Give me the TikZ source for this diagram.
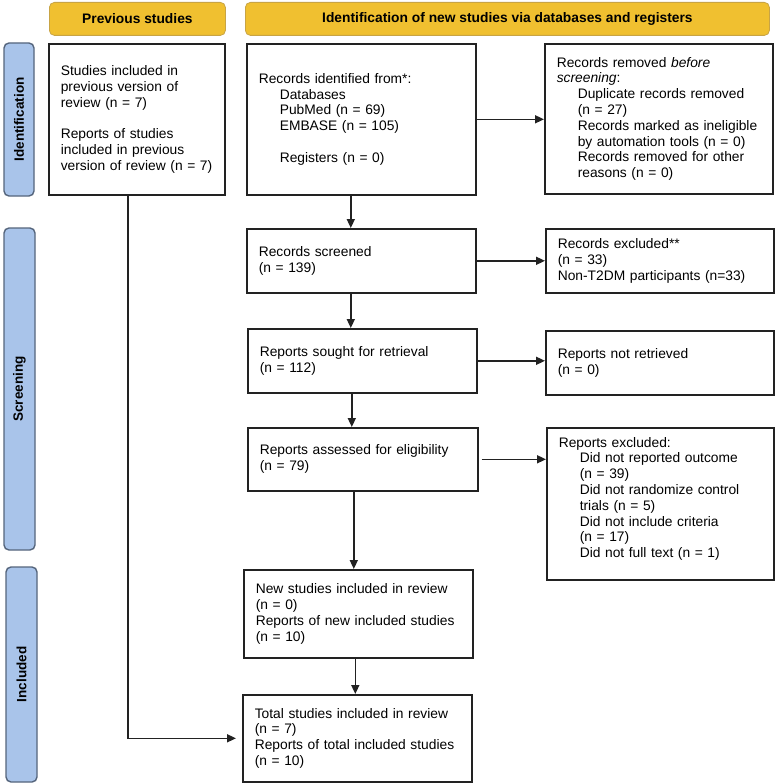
\documentclass[tikz,border=0pt]{standalone}
\usepackage{fontspec}
\setmainfont{Liberation Sans}
\usetikzlibrary{arrows.meta}
\definecolor{hdrfill}{HTML}{F0C030}
\definecolor{hdrdraw}{HTML}{C8A445}
\definecolor{sidefill}{HTML}{A9C4EA}
\definecolor{sidedraw}{HTML}{55657C}
\definecolor{boxdraw}{HTML}{222222}
\newcommand\ind{\hspace*{21pt}}
\begin{document}
\begin{tikzpicture}[x=1pt,y=-1pt,
  txt/.style={font=\fontsize{13.8}{15.8}\selectfont},
  pbox/.style={draw=boxdraw, line width=1.6pt, fill=white, anchor=north west, align=left,
    inner xsep=12pt, inner ysep=2pt, txt},
  hdr/.style={draw=hdrdraw, line width=0.8pt, fill=hdrfill, rounded corners=5pt, anchor=north west,
    minimum height=33pt, inner sep=0pt, font=\fontsize{13.8}{15.8}\selectfont\bfseries},
  side/.style={draw=sidedraw, line width=1.4pt, fill=sidefill, rounded corners=5pt, rotate=90,
    inner sep=0pt, font=\fontsize{13.5}{15.5}\selectfont\bfseries},
  arr/.style={draw=boxdraw, line width=1.6pt, -{Triangle[length=9pt,width=8pt]}}]
\useasboundingbox (0,0) rectangle (777,784);
\fill[white] (0,0) rectangle (777,784);

% headers
\node[hdr, minimum width=176pt] (prevh) at (49,2) {Previous studies};
\node[hdr, minimum width=524pt] (idh) at (245,2) {Identification of new studies via databases and registers};

% side labels
\node[side, minimum width=153pt, minimum height=30pt] (sid) at (19,119.5) {Identification};
\node[side, minimum width=322pt, minimum height=31pt] (ssc) at (19.5,389) {Screening};
\node[side, minimum width=215pt, minimum height=31pt] (sinc) at (21.5,674.5) {Included};

% boxes
\node[pbox, minimum width=176pt, minimum height=151pt, text width=152pt] (prev) at (48,43)
  {Studies included in\\previous version of\\review (n = 7)\\[15.8pt]Reports of studies\\included in previous\\version of review (n = 7)};
\node[pbox, minimum width=229pt, minimum height=151pt, text width=205pt] (ident) at (246,43)
  {Records identified from*:\\\ind Databases\\\ind PubMed (n = 69)\\\ind EMBASE (n = 105)\\[15.8pt]\ind Registers (n = 0)};
\node[pbox, minimum width=228pt, minimum height=150pt, text width=204pt] (removed) at (544,43)
  {Records removed \emph{before}\\\emph{screening}:\\\ind Duplicate records removed\\\ind (n = 27)\\\ind Records marked as ineligible\\\ind by automation tools (n = 0)\\\ind Records removed for other\\\ind reasons (n = 0)};
\node[pbox, minimum width=229pt, minimum height=64pt, text width=205pt] (screened) at (246,228)
  {Records screened\\(n = 139)};
\node[pbox, minimum width=228pt, minimum height=64pt, text width=204pt] (excl) at (545,228)
  {Records excluded**\\(n = 33)\\Non-T2DM participants (n=33)};
\node[pbox, minimum width=229pt, minimum height=64pt, text width=205pt] (sought) at (247,328)
  {Reports sought for retrieval\\(n = 112)};
\node[pbox, minimum width=228pt, minimum height=64pt, text width=204pt] (notret) at (545,330)
  {Reports not retrieved\\(n = 0)};
\node[pbox, minimum width=230pt, minimum height=63pt, text width=206pt] (assessed) at (247,427)
  {Reports assessed for eligibility\\(n = 79)};
\node[pbox, minimum width=227pt, minimum height=152pt, text width=203pt] (repexcl) at (546,427)
  {Reports excluded:\\\ind Did not reported outcome\\\ind (n = 39)\\\ind Did not randomize control\\\ind trials (n = 5)\\\ind Did not include criteria\\\ind (n = 17)\\\ind Did not full text (n = 1)\\[-3pt]\mbox{}};
\node[pbox, minimum width=229pt, minimum height=88pt, text width=205pt] (newst) at (243,569)
  {New studies included in review\\(n = 0)\\Reports of new included studies\\(n = 10)};
\node[pbox, minimum width=229pt, minimum height=87pt, text width=205pt] (total) at (242,694)
  {Total studies included in review\\(n = 7)\\Reports of total included studies\\(n = 10)};

% connectors
\draw[arr] ([xshift=-10.5pt]ident.south) -- ([xshift=-10.5pt]ident.south |- screened.north);
\draw[arr] ([xshift=-10.5pt]screened.south) -- ([xshift=-10.5pt]screened.south |- sought.north);
\draw[arr] ([xshift=-10.5pt]sought.south) -- ([xshift=-10.5pt]sought.south |- assessed.north);
\draw[arr] ([xshift=-9pt]assessed.south) -- ([xshift=-9pt]assessed.south |- newst.north);
\draw[arr] ([xshift=-3pt]newst.south) -- ([xshift=-3pt]newst.south |- total.north);
\draw[arr] (ident.east) -- (ident.east -| removed.west);
\draw[arr] (screened.east) -- (screened.east -| excl.west);
\draw[arr] (sought.east) -- (sought.east -| notret.west);
\draw[arr] ([xshift=3pt]assessed.east) -- (assessed.east -| repexcl.west);
\draw[arr, shorten >=6pt] ([xshift=-9pt]prev.south) |- (total.west);
\end{tikzpicture}
\end{document}
